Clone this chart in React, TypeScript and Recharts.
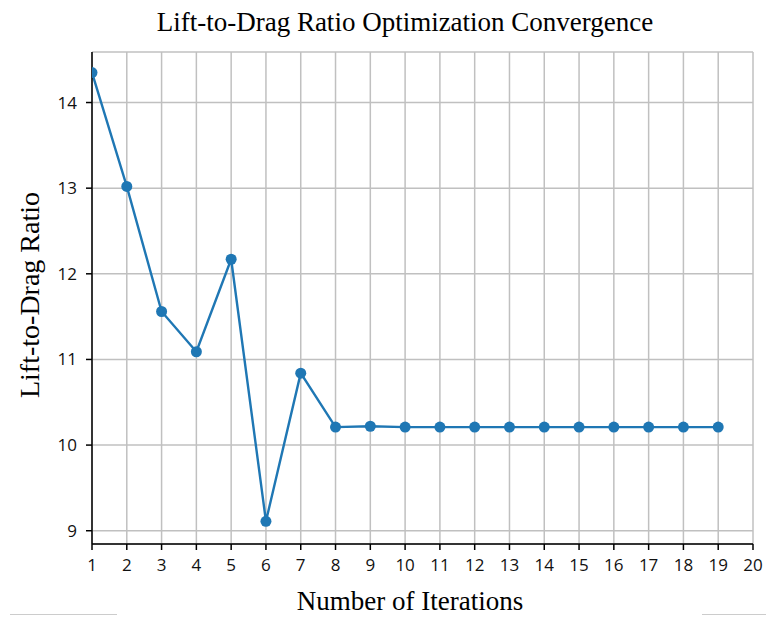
import React from "react";
import { LineChart, Line, XAxis, YAxis, CartesianGrid } from "recharts";

const iterations = [1, 2, 3, 4, 5, 6, 7, 8, 9, 10, 11, 12, 13, 14, 15, 16, 17, 18, 19];
const liftToDrag = [
  14.35, 13.02, 11.56, 11.09, 12.17, 9.11, 10.84, 10.21, 10.22, 10.21,
  10.21, 10.21, 10.21, 10.21, 10.21, 10.21, 10.21, 10.21, 10.21,
];
const xTicks = [1, 2, 3, 4, 5, 6, 7, 8, 9, 10, 11, 12, 13, 14, 15, 16, 17, 18, 19, 20];
const yTicks = [9, 10, 11, 12, 13, 14];

const data = iterations.map((it, i) => ({ iter: it, ratio: liftToDrag[i] }));

const tickFont = { fontFamily: "'Open Sans', sans-serif", fontSize: 17, fill: "#111" };
const serif = "'Liberation Serif', 'Times New Roman', serif";

const App = () => {
  return (
    <div style={{ position: "absolute", left: 0, top: 0, width: 766, height: 617, background: "#fff", overflow: "hidden" }}>
      <LineChart
        width={766}
        height={617}
        data={data}
        margin={{ top: 52, right: 13, bottom: 33, left: 32 }}
      >
        <CartesianGrid stroke="#c0c0c0" strokeWidth={1.5} />
        <XAxis
          dataKey="iter"
          type="number"
          domain={[1, 20]}
          ticks={xTicks}
          interval={0}
          height={40}
          stroke="#000"
          strokeWidth={1.5}
          tickLine={{ stroke: "#000" }}
          tickSize={6}
          tickMargin={9}
          tick={tickFont}
          allowDataOverflow
        />
        <XAxis xAxisId="top" orientation="top" dataKey="iter" type="number" domain={[1, 20]} height={0} tick={false} tickLine={false} stroke="#000" strokeWidth={1.5} />
        <YAxis
          type="number"
          domain={[8.845, 14.59]}
          ticks={yTicks}
          width={60}
          stroke="#000"
          strokeWidth={1.5}
          tickLine={{ stroke: "#000" }}
          tickSize={6}
          tickMargin={9}
          tick={tickFont}
          allowDataOverflow
        />
        <YAxis yAxisId="right" orientation="right" domain={[8.845, 14.59]} width={0} tick={false} tickLine={false} stroke="#000" strokeWidth={1.5} />
        <Line
          type="linear"
          dataKey="ratio"
          stroke="#1f77b4"
          strokeWidth={2.4}
          dot={{ r: 5.5, fill: "#1f77b4", stroke: "#1f77b4", strokeWidth: 0 }}
          isAnimationActive={false}
        />
      </LineChart>
      <div style={{ position: "absolute", top: 7, left: 0, width: 810, textAlign: "center", fontFamily: serif, fontSize: 27, lineHeight: "30px", color: "#000" }}>
        Lift-to-Drag Ratio Optimization Convergence
      </div>
      <div style={{ position: "absolute", top: 587, left: 0, width: 820, textAlign: "center", fontFamily: serif, fontSize: 27, lineHeight: "28px", color: "#000" }}>
        Number of Iterations
      </div>
      <div
        style={{
          position: "absolute",
          left: 30,
          top: 295,
          transform: "translate(-50%, -50%) rotate(-90deg)",
          whiteSpace: "nowrap",
          fontFamily: serif,
          fontSize: 28,
          lineHeight: "30px",
          color: "#000",
        }}
      >
        Lift-to-Drag Ratio
      </div>
      <div style={{ position: "absolute", left: 10, top: 614, width: 107, height: 0, borderTop: "1px solid #ccc" }} />
      <div style={{ position: "absolute", left: 702, top: 614, width: 64, height: 0, borderTop: "1px solid #ccc" }} />
    </div>
  );
};

export default App;
